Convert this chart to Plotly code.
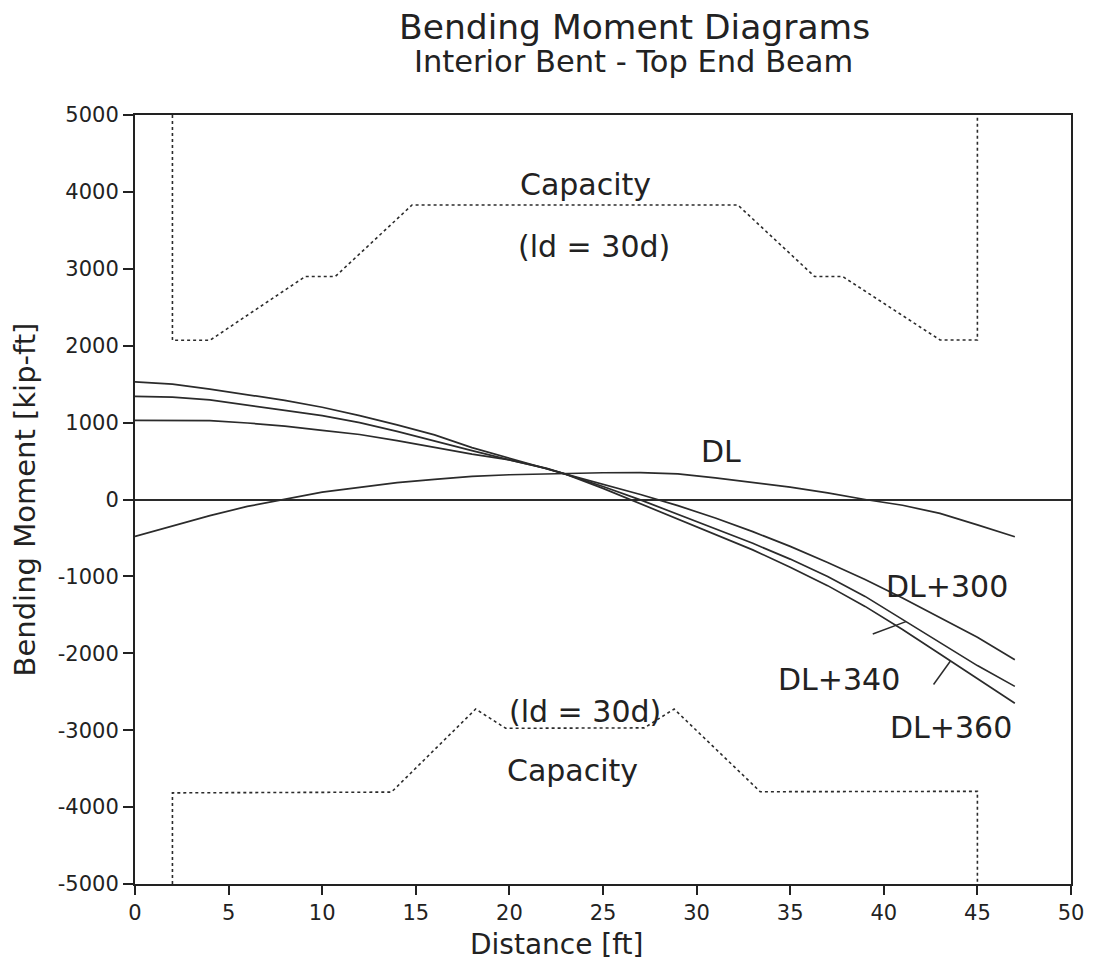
import plotly.graph_objects as go

# ---- data ----
x_dist = [0, 2, 4, 6, 8, 10, 12, 14, 16, 18, 20, 22, 23, 25, 27, 29, 31, 33, 35, 37, 39, 41, 43, 45, 47]
m_dl = [-480, -345, -210, -90, 0, 95, 158, 220, 262, 300, 322, 335, 335, 348, 350, 332, 280, 222, 160, 85, 0, -75, -180, -330, -485]
m_dl300 = [1030, 1030, 1025, 995, 955, 900, 845, 765, 675, 590, 515, 405, 330, 200, 65, -80, -240, -418, -610, -820, -1040, -1280, -1530, -1790, -2084]
m_dl340 = [1340, 1330, 1295, 1230, 1160, 1090, 1000, 885, 755, 635, 515, 400, 330, 170, -5, -190, -380, -570, -775, -1000, -1260, -1560, -1870, -2160, -2430]
m_dl360 = [1530, 1500, 1435, 1365, 1290, 1200, 1090, 970, 840, 675, 535, 395, 330, 145, -55, -250, -450, -655, -880, -1120, -1390, -1690, -2010, -2330, -2650]

cap_top_x = [2, 2, 4, 9.1, 10.7, 14.8, 32.2, 36.3, 37.8, 43, 45, 45]
cap_top_y = [5000, 2070, 2070, 2900, 2900, 3830, 3830, 2900, 2900, 2075, 2075, 5000]
cap_bot_x = [2, 2, 13.7, 18.2, 19.8, 27.2, 28.8, 33.4, 45, 45]
cap_bot_y = [-5000, -3815, -3805, -2725, -2975, -2970, -2725, -3800, -3795, -5000]

x_ticks = [0, 5, 10, 15, 20, 25, 30, 35, 40, 45, 50]
y_ticks = [5000, 4000, 3000, 2000, 1000, 0, -1000, -2000, -3000, -4000, -5000]
y_ticktext = ["5000", "4000", "3000", "2000", "1000", "0", "-1000", "-2000", "-3000", "-4000", "-5000"]

ink = "#222222"
curve_col = "#2b2b2b"

fig = go.Figure()
for ys in (m_dl, m_dl300, m_dl340, m_dl360):
    fig.add_trace(go.Scatter(x=x_dist, y=ys, mode="lines",
                             line=dict(color=curve_col, width=1.7), hoverinfo="skip"))
fig.add_trace(go.Scatter(x=cap_top_x, y=cap_top_y, mode="lines",
                         line=dict(color=curve_col, width=1.6, dash="dot"), hoverinfo="skip"))
fig.add_trace(go.Scatter(x=cap_bot_x, y=cap_bot_y, mode="lines",
                         line=dict(color=curve_col, width=1.6, dash="dot"), hoverinfo="skip"))

lab_font = dict(family="DejaVu Sans", size=30, color=ink)
labels = [
    ("Capacity", 24.06, 4090),
    ("(ld = 30d)", 24.54, 3285),
    ("DL", 31.3, 620),
    ("DL+300", 43.4, -1134),
    ("DL+340", 37.58, -2342),
    ("DL+360", 43.61, -2966),
    ("(ld = 30d)", 24.06, -2758),
    ("Capacity", 23.38, -3525),
]
for t, xx, yy in labels:
    fig.add_annotation(x=xx, y=yy, text=t, showarrow=False, font=lab_font,
                       xanchor="center", yanchor="middle")

# pointer ticks from labels to curves
fig.add_annotation(x=41.18, y=-1588, ax=39.33, ay=-1757, axref="x", ayref="y",
                   text="", showarrow=True, arrowhead=0, arrowwidth=1.5, arrowcolor=curve_col)
fig.add_annotation(x=43.56, y=-2100, ax=42.6, ay=-2425, axref="x", ayref="y",
                   text="", showarrow=True, arrowhead=0, arrowwidth=1.5, arrowcolor=curve_col)

# titles
fig.add_annotation(xref="paper", yref="paper", x=0.534, y=1.1146, text="Bending Moment Diagrams",
                   showarrow=False, font=dict(family="DejaVu Sans", size=34.5, color=ink),
                   xanchor="center", yanchor="middle")
fig.add_annotation(xref="paper", yref="paper", x=0.533, y=1.069, text="Interior Bent - Top End Beam",
                   showarrow=False, font=dict(family="DejaVu Sans", size=30.5, color=ink),
                   xanchor="center", yanchor="middle")
# x axis title (sits left of centre in the reference)
fig.add_annotation(xref="paper", yref="paper", x=0.4506, y=-0.0785, text="Distance [ft]",
                   showarrow=False, font=dict(family="DejaVu Sans", size=28, color=ink),
                   xanchor="center", yanchor="middle")

fig.update_layout(
    width=1096, height=965, autosize=False,
    margin=dict(l=135, r=14, t=115, b=81),
    paper_bgcolor="white", plot_bgcolor="white",
    showlegend=False,
    font=dict(family="DejaVu Sans", color=ink),
)
fig.update_xaxes(
    range=[0, 50], tickvals=x_ticks, ticks="outside", ticklen=9, tickwidth=2, tickcolor=ink,
    showline=True, linewidth=2, linecolor=ink, mirror=True, showgrid=False, zeroline=False,
    tickfont=dict(size=21, color=ink),
)
fig.update_yaxes(
    range=[-5000, 5000], tickvals=y_ticks, ticktext=y_ticktext, ticks="outside", ticklen=10,
    tickwidth=2, tickcolor=ink,
    showline=True, linewidth=2, linecolor=ink, mirror=True, showgrid=False,
    zeroline=True, zerolinecolor=curve_col, zerolinewidth=1.6,
    tickfont=dict(size=21, color=ink),
    title=dict(text="Bending Moment [kip-ft]", font=dict(size=29, color=ink), standoff=14),
)

fig.write_html("out.html")
